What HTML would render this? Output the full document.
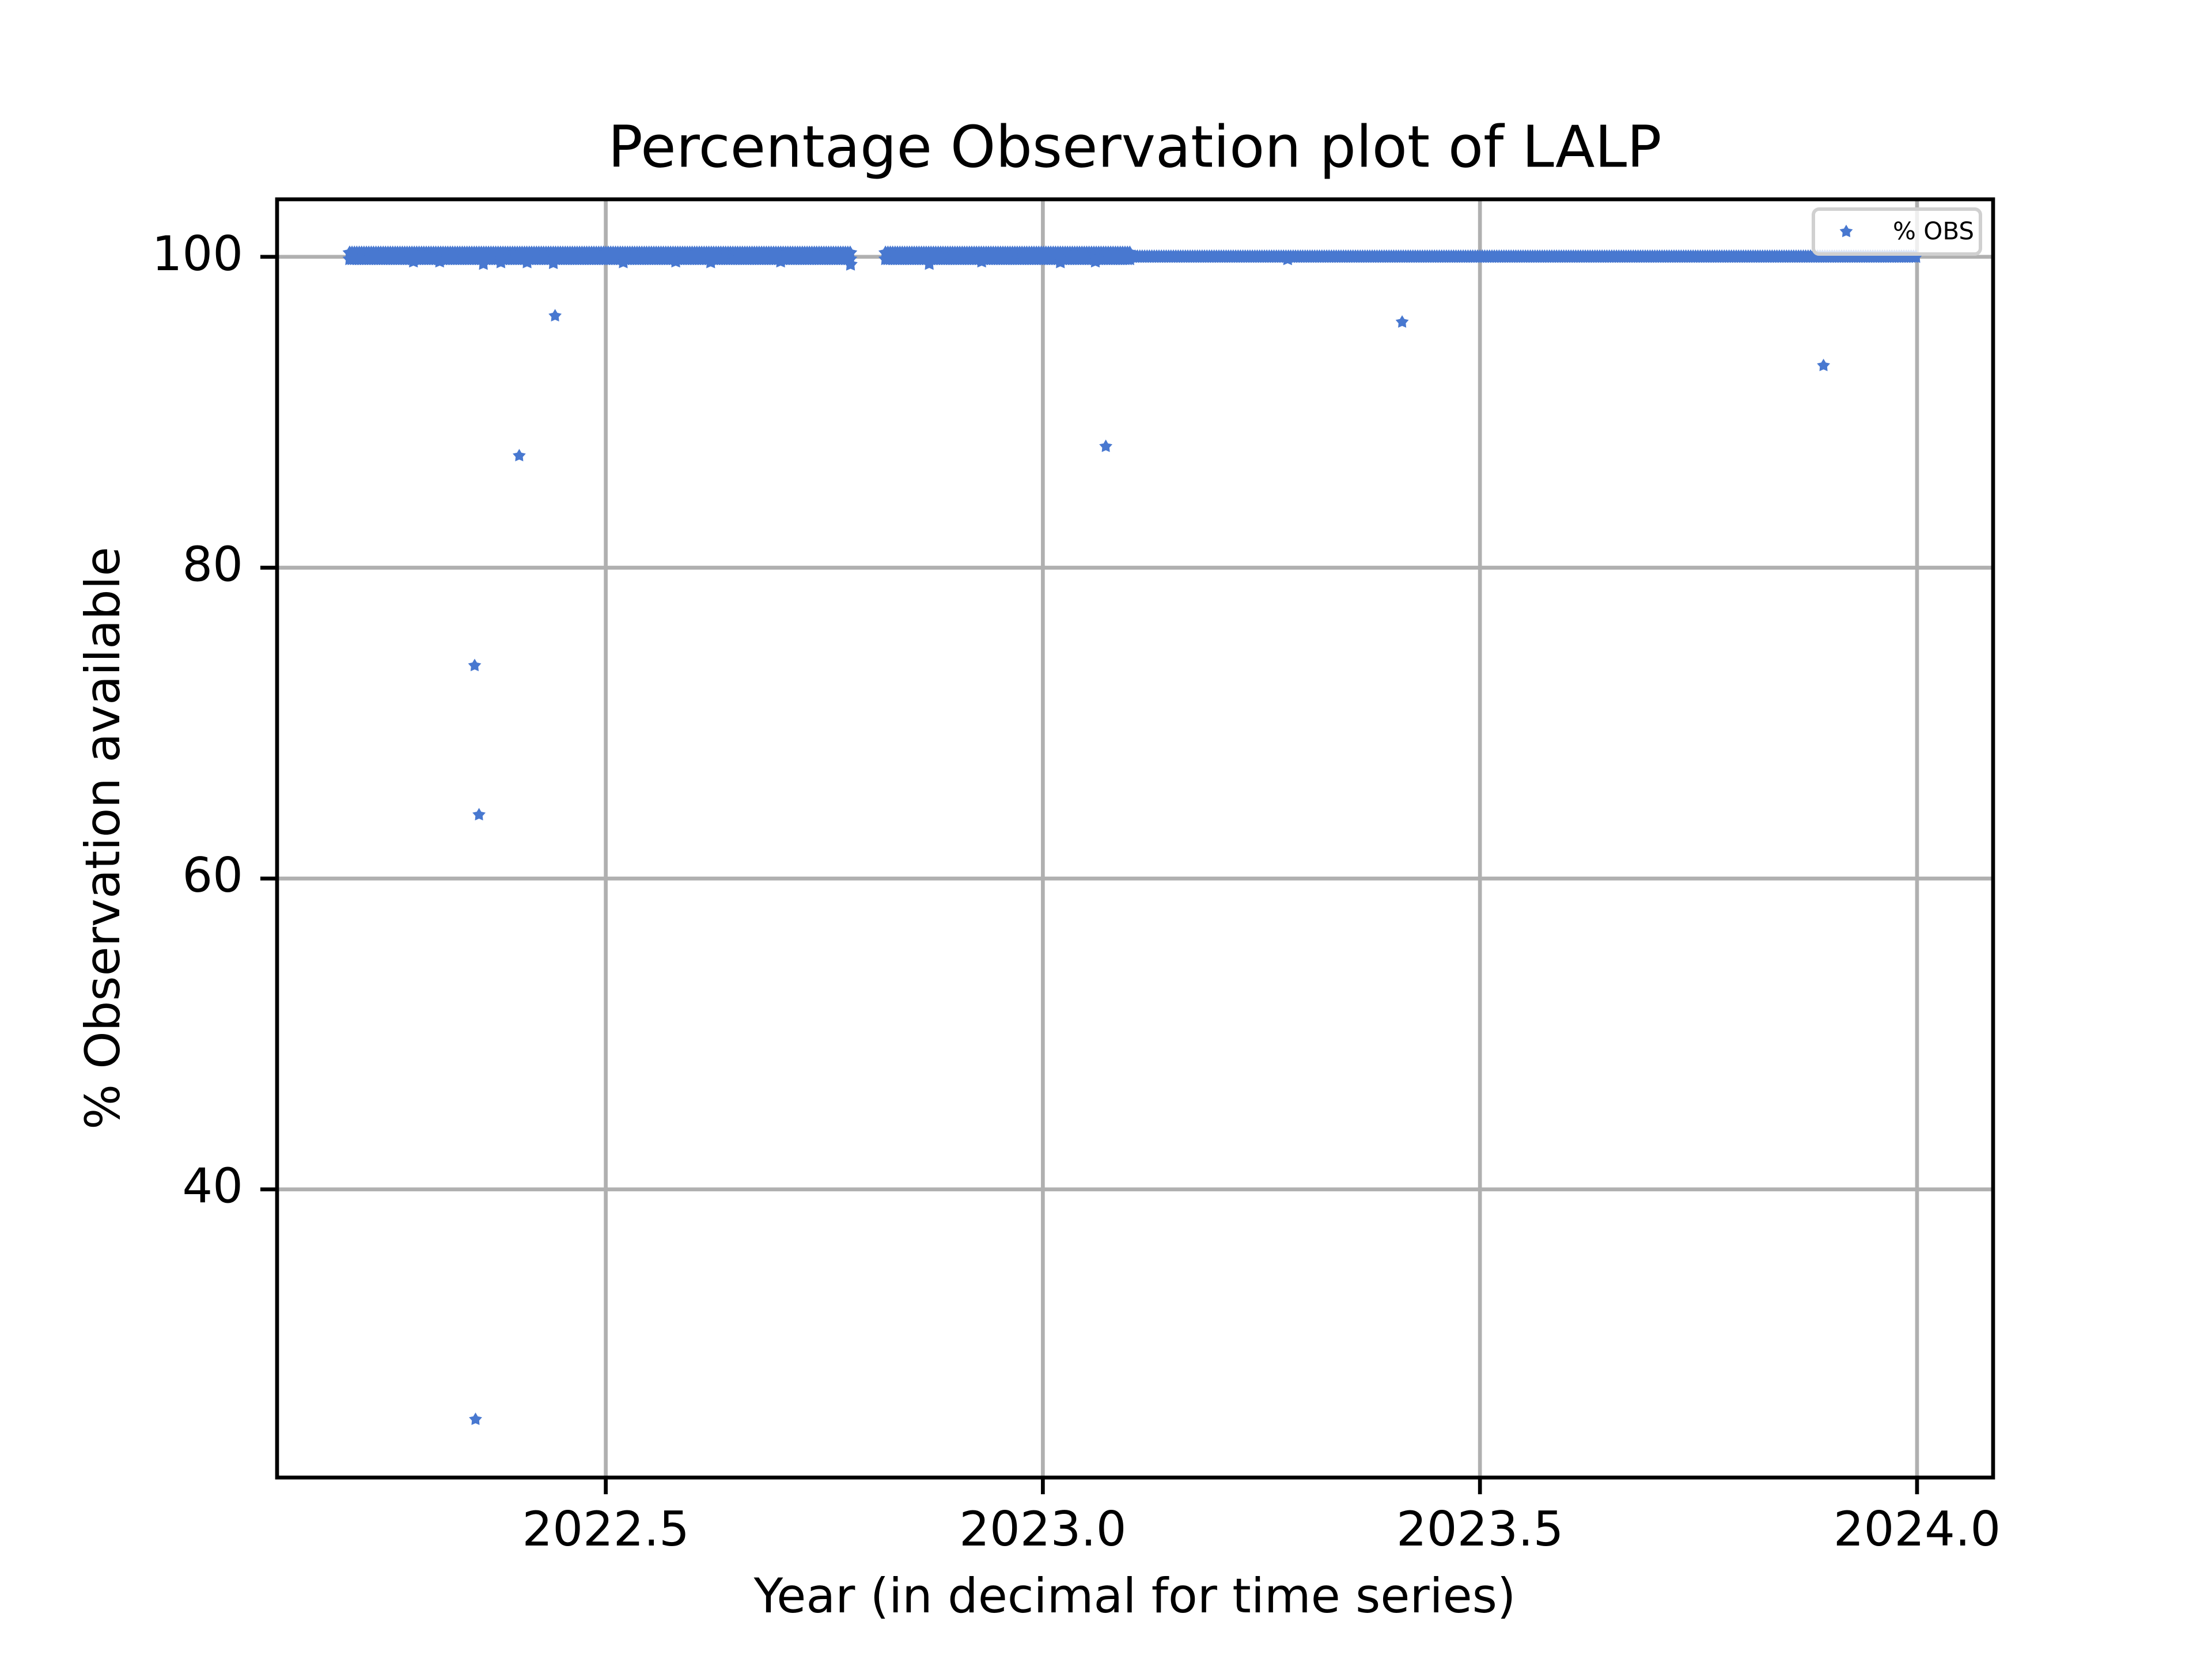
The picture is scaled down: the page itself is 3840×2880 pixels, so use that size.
<!DOCTYPE html>
<html><head><meta charset="utf-8"><style>
html,body{margin:0;padding:0;background:#fff}
svg{display:block}
text{font-family:"DejaVu Sans","Liberation Sans",sans-serif;fill:#000}
</style></head><body>
<svg id="chart" width="3840" height="2880" viewBox="0 0 3840 2880" xmlns="http://www.w3.org/2000/svg">
<rect width="3840" height="2880" fill="#fff"/>
<text x="1970" y="262" font-size="100" text-anchor="middle" dominant-baseline="middle">Percentage Observation plot of LALP</text>
<g id="grid"></g>
<g id="marks"></g>
<g id="axes"></g>
<text x="1970" y="2776" font-size="83" text-anchor="middle" dominant-baseline="middle">Year (in decimal for time series)</text>
<text x="184" y="1455" font-size="83" text-anchor="middle" dominant-baseline="middle" transform="rotate(-90 184 1455)">% Observation available</text>
<g id="legend">
<rect x="3148" y="363" width="290" height="78" rx="10" fill="#fff" fill-opacity="0.8" stroke="#d0d0d0" stroke-width="6"/>
<text x="3286" y="404" font-size="42" dominant-baseline="middle">% OBS</text>
</g>
</svg>
<script>
const xTicks = [2022.5, 2023.0, 2023.5, 2024.0];
const xTickLabels = ["2022.5", "2023.0", "2023.5", "2024.0"];
const yTicks = [40, 60, 80, 100];
const yTickLabels = ["40", "60", "80", "100"];
// band segments
const segStart = [2022.207, 2022.82, 2023.10];
const segEnd = [2022.78, 2023.10, 2024.0];
const segHigh = [100.25, 100.25, 100.0];
const segLow = [99.85, 99.85, 100.0];
// small dips within the band
const dipYears = [2022.28, 2022.31, 2022.36, 2022.38, 2022.41, 2022.44, 2022.52, 2022.58, 2022.62, 2022.70, 2022.78, 2022.87, 2022.93, 2023.02, 2023.06, 2023.28];
const dipValues = [99.7, 99.7, 99.55, 99.65, 99.65, 99.6, 99.65, 99.7, 99.65, 99.7, 99.5, 99.55, 99.7, 99.65, 99.7, 99.85];
// outliers
const outYears = [2022.351, 2022.350, 2022.355, 2022.401, 2022.442, 2023.072, 2023.411, 2023.893];
const outValues = [25.2, 73.7, 64.1, 87.2, 96.2, 87.8, 95.8, 93.0];

const L=481,R=3460,T=346,B=2565;
const xMin=2022.124,xMax=2024.087,yMin=21.46,yMax=103.7;
const X=v=>L+(v-xMin)/(xMax-xMin)*(R-L);
const Y=v=>B-(v-yMin)/(yMax-yMin)*(B-T);
const NS="http://www.w3.org/2000/svg";
const grid=document.getElementById('grid'),marks=document.getElementById('marks'),axes=document.getElementById('axes');
function mk(tag,attrs,parent){const e=document.createElementNS(NS,tag);for(const k in attrs)e.setAttribute(k,attrs[k]);parent.appendChild(e);return e;}
function star(cx,cy,r){let p=[];for(let i=0;i<10;i++){const a=-Math.PI/2+i*Math.PI/5;const rr=i%2?r*0.55:r;p.push((cx+rr*Math.cos(a)).toFixed(1)+','+(cy+rr*Math.sin(a)).toFixed(1));}return p.join(' ');}
xTicks.forEach((t,i)=>{
 const g=mk('line',{x1:X(t),x2:X(t),y1:T,y2:B,stroke:'#b0b0b0','stroke-width':6.7},grid);
 
 
 const tk=mk('line',{x1:X(t),x2:X(t),y1:B,y2:B+29,stroke:'#000','stroke-width':6.7},axes);
 
 
 const lb=mk('text',{x:X(t),y:2660,'font-size':83,'text-anchor':'middle','dominant-baseline':'middle'},axes);
 lb.textContent=xTickLabels[i];
 
 
});
yTicks.forEach((t,i)=>{
 const g=mk('line',{x1:L,x2:R,y1:Y(t),y2:Y(t),stroke:'#b0b0b0','stroke-width':6.7},grid);
 
 
 const tk=mk('line',{x1:L-29,x2:L,y1:Y(t),y2:Y(t),stroke:'#000','stroke-width':6.7},axes);
 
 
 const lb=mk('text',{x:422,y:Y(t),'font-size':83,'text-anchor':'end','dominant-baseline':'middle'},axes);
 lb.textContent=yTickLabels[i];
 
 
});
const col='#4878d0';
function pt(yr,v,r){const p=mk('polygon',{points:star(X(yr),Y(v),r),fill:col},marks);
 
 }
segStart.forEach((s,i)=>{
 const step=1/365;
 for(let yr=s;yr<=segEnd[i];yr+=step){
  pt(yr,segHigh[i],13);
  if(segLow[i]!==segHigh[i]) pt(yr,segLow[i],13);
 }
});
dipYears.forEach((yr,i)=>pt(yr,dipValues[i],13));
outYears.forEach((yr,i)=>pt(yr,outValues[i],12));
const fr=mk('rect',{x:L,y:T,width:R-L,height:B-T,fill:'none',stroke:'#000','stroke-width':6.7},axes);


const lp=mk('polygon',{points:star(3205,402,12),fill:col},document.getElementById('legend'));


</script>
</body></html>
